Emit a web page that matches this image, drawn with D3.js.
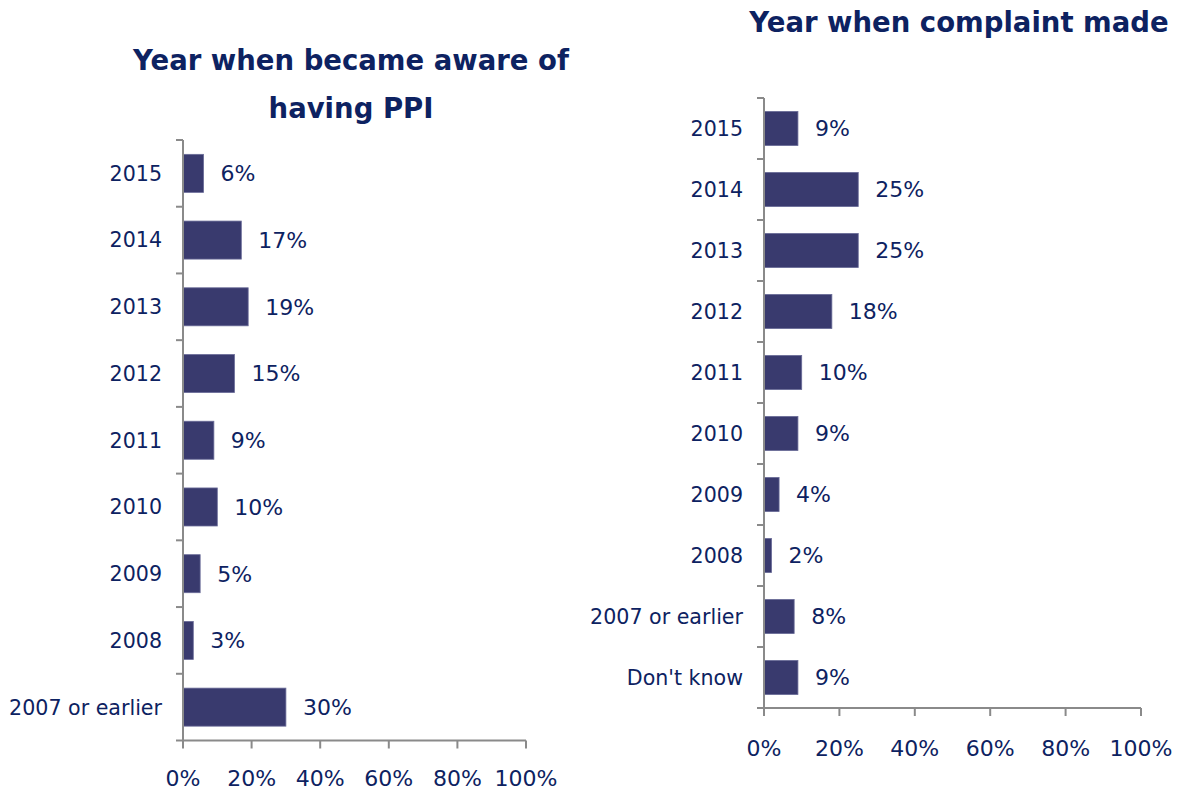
<!DOCTYPE html>
<html><head><meta charset="utf-8">
<script src="https://cdnjs.cloudflare.com/ajax/libs/d3/7.8.5/d3.min.js"></script>
<style>body{margin:0;background:#fff;}svg{display:block;font-family:"DejaVu Sans",Verdana,sans-serif;}</style>
</head><body><svg id="c" width="1181" height="796"></svg>
<script>
const leftCategories = ["2015","2014","2013","2012","2011","2010","2009","2008","2007 or earlier"];
const leftValues = [6,17,19,15,9,10,5,3,30];
const leftTitle = ["Year when became aware of","having PPI"];
const rightCategories = ["2015","2014","2013","2012","2011","2010","2009","2008","2007 or earlier","Don't know"];
const rightValues = [9,25,25,18,10,9,4,2,8,9];
const rightTitle = ["Year when complaint made"];
const xTicks = [0,20,40,60,80,100];

const svg = d3.select("#c");
const textColor = "#0d2261";
const barColor = "#393a6e";
const axisColor = "#8a8a8a";

function panel(cfg){
  const g = svg.append("g");
  const x = d3.scaleLinear().domain([0,100]).range([cfg.x0, cfg.x1]);
  const y = d3.scaleBand().domain(cfg.cats).range([cfg.y0, cfg.y1]).paddingInner(cfg.pad).paddingOuter(cfg.pad/2);
  g.selectAll("rect.bar").data(cfg.vals).join("rect")
    .attr("x", x(0)).attr("y",(d,i)=>y(cfg.cats[i]))
    .attr("width", d=>x(d)-x(0)).attr("height", y.bandwidth())
    .attr("fill", barColor).attr("stroke","#6a6c98").attr("stroke-width",0.8);
  g.selectAll("text.val").data(cfg.vals).join("text")
    .attr("x", d=>x(d)+17).attr("y",(d,i)=>y(cfg.cats[i])+y.bandwidth()/2)
    .attr("dy","0.36em").attr("font-size",22).attr("fill",textColor)
    .text(d=>d+"%");
  g.append("line").attr("x1",x(0)).attr("x2",x(0)).attr("y1",cfg.y0).attr("y2",cfg.y1)
    .attr("stroke",axisColor).attr("stroke-width",2);
  const bounds = d3.range(cfg.cats.length+1).map(i=>cfg.y0 + i*(cfg.y1-cfg.y0)/cfg.cats.length);
  g.selectAll("line.yt").data(bounds).join("line")
    .attr("x1",x(0)-7).attr("x2",x(0)).attr("y1",d=>d).attr("y2",d=>d)
    .attr("stroke",axisColor).attr("stroke-width",2);
  g.selectAll("text.cat").data(cfg.cats).join("text")
    .attr("x", x(0)-21).attr("y", d=>y(d)+y.bandwidth()/2)
    .attr("dy","0.36em").attr("text-anchor","end").attr("font-size",20.6).attr("fill",textColor)
    .text(d=>d);
  g.append("line").attr("x1",x(0)).attr("x2",x(100)).attr("y1",cfg.y1).attr("y2",cfg.y1)
    .attr("stroke",axisColor).attr("stroke-width",2);
  g.selectAll("line.xt").data(xTicks).join("line")
    .attr("x1",d=>x(d)).attr("x2",d=>x(d)).attr("y1",cfg.y1).attr("y2",cfg.y1+8)
    .attr("stroke",axisColor).attr("stroke-width",2);
  g.selectAll("text.xl").data(xTicks).join("text")
    .attr("x",d=>x(d)).attr("y",cfg.y1+cfg.tickLabelOffset).attr("dy","0.36em")
    .attr("text-anchor","middle").attr("font-size",22).attr("fill",textColor)
    .text(d=>d+"%");
  cfg.title.forEach((t,i)=>{
    g.append("text").attr("x",cfg.tx).attr("y",cfg.ty+i*48).attr("dy","0.36em")
      .attr("text-anchor","middle").attr("font-size",cfg.tsize).attr("font-weight","bold")
      .attr("fill",textColor).text(t);
  });
}

panel({cats:leftCategories, vals:leftValues, title:leftTitle, x0:183, x1:526, y0:140, y1:740.5, pad:0.43,
  tickLabelOffset:38, tx:351, ty:60, tsize:27.5});
panel({cats:rightCategories, vals:rightValues, title:rightTitle, x0:764, x1:1141, y0:98, y1:708, pad:0.44,
  tickLabelOffset:40, tx:959, ty:22, tsize:27.5});
</script></body></html>
